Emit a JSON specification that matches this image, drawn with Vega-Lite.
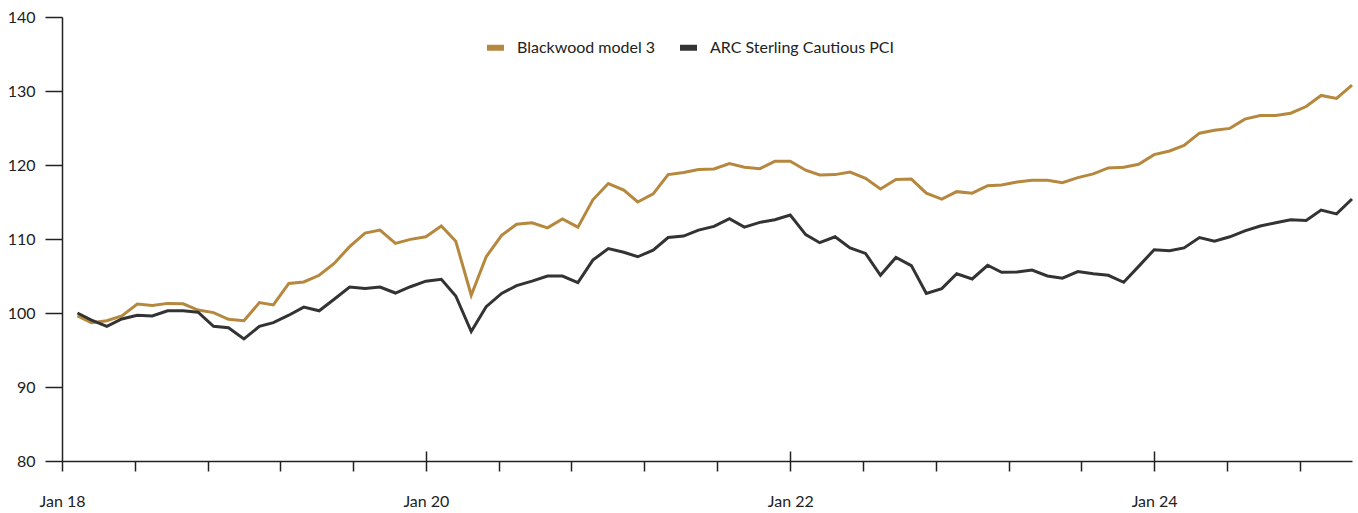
{
  "$schema": "https://vega.github.io/schema/vega-lite/v6.json",
  "width": 1290,
  "height": 444,
  "autosize": "none",
  "padding": {"left": 62, "top": 17, "right": 6, "bottom": 52},
  "background": "white",
  "config": {"view": {"stroke": null}, "font": "Lato"},
  "data": {"values": [
    {"date": "2018-02-01", "Blackwood model 3": 99.6, "ARC Sterling Cautious PCI": 100.0},
    {"date": "2018-03-01", "Blackwood model 3": 98.7, "ARC Sterling Cautious PCI": 99.05},
    {"date": "2018-04-01", "Blackwood model 3": 98.96, "ARC Sterling Cautious PCI": 98.2},
    {"date": "2018-05-01", "Blackwood model 3": 99.6, "ARC Sterling Cautious PCI": 99.2},
    {"date": "2018-06-01", "Blackwood model 3": 101.2, "ARC Sterling Cautious PCI": 99.7},
    {"date": "2018-07-01", "Blackwood model 3": 101.0, "ARC Sterling Cautious PCI": 99.6},
    {"date": "2018-08-01", "Blackwood model 3": 101.3, "ARC Sterling Cautious PCI": 100.3},
    {"date": "2018-09-01", "Blackwood model 3": 101.25, "ARC Sterling Cautious PCI": 100.3},
    {"date": "2018-10-01", "Blackwood model 3": 100.4, "ARC Sterling Cautious PCI": 100.1},
    {"date": "2018-11-01", "Blackwood model 3": 100.05, "ARC Sterling Cautious PCI": 98.2},
    {"date": "2018-12-01", "Blackwood model 3": 99.15, "ARC Sterling Cautious PCI": 98.0},
    {"date": "2019-01-01", "Blackwood model 3": 98.96, "ARC Sterling Cautious PCI": 96.5},
    {"date": "2019-02-01", "Blackwood model 3": 101.4, "ARC Sterling Cautious PCI": 98.2},
    {"date": "2019-03-01", "Blackwood model 3": 101.1, "ARC Sterling Cautious PCI": 98.7},
    {"date": "2019-04-01", "Blackwood model 3": 104.0, "ARC Sterling Cautious PCI": 99.7},
    {"date": "2019-05-01", "Blackwood model 3": 104.2, "ARC Sterling Cautious PCI": 100.8},
    {"date": "2019-06-01", "Blackwood model 3": 105.1, "ARC Sterling Cautious PCI": 100.3},
    {"date": "2019-07-01", "Blackwood model 3": 106.7, "ARC Sterling Cautious PCI": 101.85},
    {"date": "2019-08-01", "Blackwood model 3": 108.96, "ARC Sterling Cautious PCI": 103.5},
    {"date": "2019-09-01", "Blackwood model 3": 110.8, "ARC Sterling Cautious PCI": 103.3},
    {"date": "2019-10-01", "Blackwood model 3": 111.2, "ARC Sterling Cautious PCI": 103.5},
    {"date": "2019-11-01", "Blackwood model 3": 109.4, "ARC Sterling Cautious PCI": 102.7},
    {"date": "2019-12-01", "Blackwood model 3": 109.95, "ARC Sterling Cautious PCI": 103.55},
    {"date": "2020-01-01", "Blackwood model 3": 110.3, "ARC Sterling Cautious PCI": 104.3},
    {"date": "2020-02-01", "Blackwood model 3": 111.75, "ARC Sterling Cautious PCI": 104.55},
    {"date": "2020-03-01", "Blackwood model 3": 109.7, "ARC Sterling Cautious PCI": 102.3},
    {"date": "2020-04-01", "Blackwood model 3": 102.4, "ARC Sterling Cautious PCI": 97.5},
    {"date": "2020-05-01", "Blackwood model 3": 107.6, "ARC Sterling Cautious PCI": 100.85},
    {"date": "2020-06-01", "Blackwood model 3": 110.5, "ARC Sterling Cautious PCI": 102.65},
    {"date": "2020-07-01", "Blackwood model 3": 112.0, "ARC Sterling Cautious PCI": 103.7},
    {"date": "2020-08-01", "Blackwood model 3": 112.2, "ARC Sterling Cautious PCI": 104.3},
    {"date": "2020-09-01", "Blackwood model 3": 111.5, "ARC Sterling Cautious PCI": 105.0},
    {"date": "2020-10-01", "Blackwood model 3": 112.7, "ARC Sterling Cautious PCI": 105.0},
    {"date": "2020-11-01", "Blackwood model 3": 111.6, "ARC Sterling Cautious PCI": 104.1},
    {"date": "2020-12-01", "Blackwood model 3": 115.3, "ARC Sterling Cautious PCI": 107.15},
    {"date": "2021-01-01", "Blackwood model 3": 117.5, "ARC Sterling Cautious PCI": 108.7},
    {"date": "2021-02-01", "Blackwood model 3": 116.6, "ARC Sterling Cautious PCI": 108.2},
    {"date": "2021-03-01", "Blackwood model 3": 115.0, "ARC Sterling Cautious PCI": 107.6},
    {"date": "2021-04-01", "Blackwood model 3": 116.1, "ARC Sterling Cautious PCI": 108.5},
    {"date": "2021-05-01", "Blackwood model 3": 118.7, "ARC Sterling Cautious PCI": 110.2},
    {"date": "2021-06-01", "Blackwood model 3": 119.0, "ARC Sterling Cautious PCI": 110.4},
    {"date": "2021-07-01", "Blackwood model 3": 119.4, "ARC Sterling Cautious PCI": 111.2},
    {"date": "2021-08-01", "Blackwood model 3": 119.46, "ARC Sterling Cautious PCI": 111.7},
    {"date": "2021-09-01", "Blackwood model 3": 120.2, "ARC Sterling Cautious PCI": 112.75},
    {"date": "2021-10-01", "Blackwood model 3": 119.7, "ARC Sterling Cautious PCI": 111.6},
    {"date": "2021-11-01", "Blackwood model 3": 119.5, "ARC Sterling Cautious PCI": 112.25},
    {"date": "2021-12-01", "Blackwood model 3": 120.5, "ARC Sterling Cautious PCI": 112.6},
    {"date": "2022-01-01", "Blackwood model 3": 120.5, "ARC Sterling Cautious PCI": 113.25},
    {"date": "2022-02-01", "Blackwood model 3": 119.3, "ARC Sterling Cautious PCI": 110.6},
    {"date": "2022-03-01", "Blackwood model 3": 118.65, "ARC Sterling Cautious PCI": 109.5},
    {"date": "2022-04-01", "Blackwood model 3": 118.7, "ARC Sterling Cautious PCI": 110.3},
    {"date": "2022-05-01", "Blackwood model 3": 119.05, "ARC Sterling Cautious PCI": 108.8},
    {"date": "2022-06-01", "Blackwood model 3": 118.2, "ARC Sterling Cautious PCI": 108.05},
    {"date": "2022-07-01", "Blackwood model 3": 116.75, "ARC Sterling Cautious PCI": 105.1},
    {"date": "2022-08-01", "Blackwood model 3": 118.05, "ARC Sterling Cautious PCI": 107.5},
    {"date": "2022-09-01", "Blackwood model 3": 118.1, "ARC Sterling Cautious PCI": 106.4},
    {"date": "2022-10-01", "Blackwood model 3": 116.2, "ARC Sterling Cautious PCI": 102.65},
    {"date": "2022-11-01", "Blackwood model 3": 115.4, "ARC Sterling Cautious PCI": 103.3},
    {"date": "2022-12-01", "Blackwood model 3": 116.4, "ARC Sterling Cautious PCI": 105.3},
    {"date": "2023-01-01", "Blackwood model 3": 116.2, "ARC Sterling Cautious PCI": 104.6},
    {"date": "2023-02-01", "Blackwood model 3": 117.2, "ARC Sterling Cautious PCI": 106.45},
    {"date": "2023-03-01", "Blackwood model 3": 117.3, "ARC Sterling Cautious PCI": 105.5},
    {"date": "2023-04-01", "Blackwood model 3": 117.7, "ARC Sterling Cautious PCI": 105.55},
    {"date": "2023-05-01", "Blackwood model 3": 117.95, "ARC Sterling Cautious PCI": 105.8},
    {"date": "2023-06-01", "Blackwood model 3": 117.95, "ARC Sterling Cautious PCI": 105.0},
    {"date": "2023-07-01", "Blackwood model 3": 117.6, "ARC Sterling Cautious PCI": 104.7},
    {"date": "2023-08-01", "Blackwood model 3": 118.3, "ARC Sterling Cautious PCI": 105.6},
    {"date": "2023-09-01", "Blackwood model 3": 118.8, "ARC Sterling Cautious PCI": 105.3},
    {"date": "2023-10-01", "Blackwood model 3": 119.6, "ARC Sterling Cautious PCI": 105.1},
    {"date": "2023-11-01", "Blackwood model 3": 119.7, "ARC Sterling Cautious PCI": 104.15},
    {"date": "2023-12-01", "Blackwood model 3": 120.1, "ARC Sterling Cautious PCI": 106.3},
    {"date": "2024-01-01", "Blackwood model 3": 121.4, "ARC Sterling Cautious PCI": 108.55},
    {"date": "2024-02-01", "Blackwood model 3": 121.9, "ARC Sterling Cautious PCI": 108.4},
    {"date": "2024-03-01", "Blackwood model 3": 122.65, "ARC Sterling Cautious PCI": 108.8},
    {"date": "2024-04-01", "Blackwood model 3": 124.3, "ARC Sterling Cautious PCI": 110.2},
    {"date": "2024-05-01", "Blackwood model 3": 124.7, "ARC Sterling Cautious PCI": 109.7},
    {"date": "2024-06-01", "Blackwood model 3": 124.95, "ARC Sterling Cautious PCI": 110.3},
    {"date": "2024-07-01", "Blackwood model 3": 126.2, "ARC Sterling Cautious PCI": 111.1},
    {"date": "2024-08-01", "Blackwood model 3": 126.7, "ARC Sterling Cautious PCI": 111.75},
    {"date": "2024-09-01", "Blackwood model 3": 126.7, "ARC Sterling Cautious PCI": 112.2},
    {"date": "2024-10-01", "Blackwood model 3": 127.0, "ARC Sterling Cautious PCI": 112.6},
    {"date": "2024-11-01", "Blackwood model 3": 127.9, "ARC Sterling Cautious PCI": 112.5},
    {"date": "2024-12-01", "Blackwood model 3": 129.4, "ARC Sterling Cautious PCI": 113.9},
    {"date": "2025-01-01", "Blackwood model 3": 129.0, "ARC Sterling Cautious PCI": 113.4},
    {"date": "2025-02-01", "Blackwood model 3": 130.8, "ARC Sterling Cautious PCI": 115.4}
  ]},
  "transform": [
    {"fold": ["Blackwood model 3", "ARC Sterling Cautious PCI"], "as": ["series", "value"]}
  ],
  "resolve": {"axis": {"x": "independent"}},
  "layer": [
    {
      "mark": {"type": "line", "strokeWidth": 3},
      "encoding": {
        "x": {
          "field": "date",
          "type": "temporal",
          "scale": {"type": "utc", "domain": [{"year": 2018, "month": 1, "date": 1, "utc": true}, {"year": 2025, "month": 2, "date": 1, "utc": true}]},
          "axis": {
            "orient": "bottom",
            "title": null,
            "grid": false,
            "values": [
              {"year": 2018, "month": 1, "date": 1, "utc": true},
              {"year": 2018, "month": 5, "date": 27, "utc": true},
              {"year": 2018, "month": 10, "date": 20, "utc": true},
              {"year": 2019, "month": 3, "date": 15, "utc": true},
              {"year": 2019, "month": 8, "date": 8, "utc": true},
              {"year": 2020, "month": 1, "date": 1, "utc": true},
              {"year": 2020, "month": 5, "date": 26, "utc": true},
              {"year": 2020, "month": 10, "date": 19, "utc": true},
              {"year": 2021, "month": 3, "date": 14, "utc": true},
              {"year": 2021, "month": 8, "date": 7, "utc": true},
              {"year": 2022, "month": 1, "date": 1, "utc": true},
              {"year": 2022, "month": 5, "date": 27, "utc": true},
              {"year": 2022, "month": 10, "date": 20, "utc": true},
              {"year": 2023, "month": 3, "date": 15, "utc": true},
              {"year": 2023, "month": 8, "date": 8, "utc": true},
              {"year": 2024, "month": 1, "date": 1, "utc": true},
              {"year": 2024, "month": 5, "date": 26, "utc": true},
              {"year": 2024, "month": 10, "date": 19, "utc": true}
            ],
            "labelExpr": "(utcmonth(datum.value) == 0 && utcdate(datum.value) == 1) ? utcFormat(datum.value, 'Jan %y') : ''",
            "labelOverlap": false,
            "labelFlush": false,
            "labelFontSize": 16,
            "labelColor": "#222222",
            "labelPadding": 22,
            "tickSize": 10,
            "tickWidth": 1.5,
            "tickColor": "#222222",
            "domainColor": "#222222",
            "domainWidth": 1.5
          }
        },
        "y": {
          "field": "value",
          "type": "quantitative",
          "scale": {"domain": [80, 140], "nice": false, "zero": false},
          "axis": {
            "title": null,
            "grid": false,
            "values": [80, 85, 90, 95, 100, 105, 110, 115, 120, 125, 130, 135, 140],
            "labelExpr": "datum.value % 10 == 0 ? datum.label : ''",
            "labelFontSize": 16,
            "labelColor": "#222222",
            "labelPadding": 10,
            "tickSize": {"condition": {"test": "datum.value % 10 != 0", "value": 8}, "value": 17},
            "tickWidth": 1.5,
            "tickColor": "#222222",
            "domainColor": "#222222",
            "domainWidth": 1.5
          }
        },
        "color": {
          "field": "series",
          "type": "nominal",
          "sort": ["Blackwood model 3", "ARC Sterling Cautious PCI"],
          "scale": {"domain": ["Blackwood model 3", "ARC Sterling Cautious PCI"], "range": ["#B5883E", "#333333"]},
          "legend": {
            "title": null,
            "orient": "none",
            "legendX": 422,
            "legendY": 19,
            "direction": "horizontal",
            "symbolType": "M-1,0H1",
            "symbolSize": 289,
            "symbolStrokeWidth": 6,
            "labelFontSize": 16,
            "labelColor": "#222222",
            "labelOffset": 10,
            "labelLimit": 0,
            "columnPadding": 12
          }
        }
      }
    },
    {
      "mark": {"type": "point", "opacity": 0},
      "encoding": {
        "x": {
          "field": "date",
          "type": "temporal",
          "axis": {
            "orient": "bottom",
            "offset": -10,
            "title": null,
            "grid": false,
            "domain": false,
            "labels": false,
            "values": [
              {"year": 2020, "month": 1, "date": 1, "utc": true},
              {"year": 2022, "month": 1, "date": 1, "utc": true},
              {"year": 2024, "month": 1, "date": 1, "utc": true}
            ],
            "tickSize": 10,
            "tickWidth": 1.5,
            "tickColor": "#222222"
          }
        },
        "y": {"field": "value", "type": "quantitative"}
      }
    }
  ]
}
